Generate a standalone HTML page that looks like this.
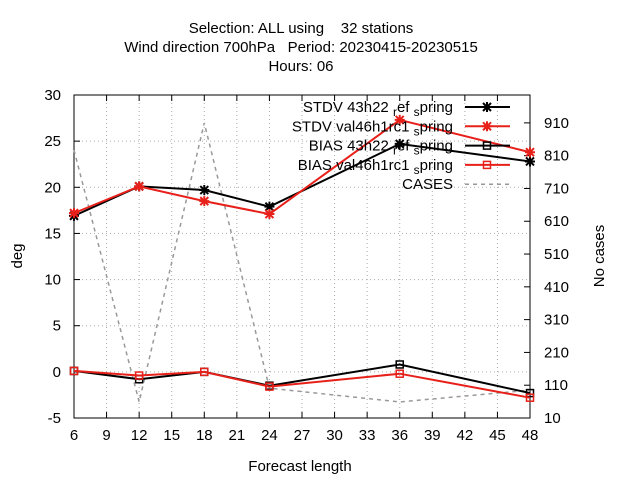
<!DOCTYPE html>
<html><head><meta charset="utf-8"><style>
body{margin:0;background:#fff}
svg text{font-family:"Liberation Sans",sans-serif;font-size:15px;fill:#000}
</style></head><body>
<svg id="c" width="640" height="480" xmlns="http://www.w3.org/2000/svg">
<rect width="640" height="480" fill="#fff"/>
<text x="301" y="33" text-anchor="middle" xml:space="preserve">Selection: ALL using    32 stations</text>
<text x="301" y="52" text-anchor="middle" xml:space="preserve">Wind direction 700hPa   Period: 20230415-20230515</text>
<text x="301" y="71" text-anchor="middle">Hours:  06</text>
<text x="300" y="471" text-anchor="middle">Forecast length</text>
<text transform="translate(22,256) rotate(-90)" text-anchor="middle">deg</text>
<text transform="translate(604,256) rotate(-90)" text-anchor="middle">No cases</text>
<g id="grid"></g><g id="axes"></g><g id="series"></g><g id="legend"></g>
</svg>
<script>
const xVals=[6,12,18,24,36,48];
const stdvRef=[16.9,20.1,19.7,17.9,24.7,22.8];
const stdvVal=[17.2,20.1,18.5,17.1,27.3,23.8];
const biasRef=[0.1,-0.8,0.0,-1.5,0.8,-2.3];
const biasVal=[0.1,-0.4,0.0,-1.6,-0.2,-2.8];
const cases=[827,59,910,101,59,95];
const xTicks=[6,9,12,15,18,21,24,27,30,33,36,39,42,45,48];
const yTicks=[-5,0,5,10,15,20,25,30];
const y2Ticks=[10,110,210,310,410,510,610,710,810,910];
const legendLabels=["STDV 43h22 _ref _spring","STDV val46h1rc1 _spring","BIAS 43h22 _ref _spring","BIAS val46h1rc1 _spring","CASES"];
const L=74,R=530,T=95,B=418;
const X=v=>L+(v-6)/(42)*(R-L);
const Y=v=>B-(v+5)/35*(B-T);
const Y2=v=>B-(v-10)/985*(B-T);
const NS="http://www.w3.org/2000/svg";
function mk(tag,attrs,parent){const e=document.createElementNS(NS,tag);for(const k in attrs)e.setAttribute(k,attrs[k]);(typeof parent==='string'?document.getElementById(parent):parent).appendChild(e);return e;}
xTicks.forEach(t=>{const x=X(t);
 const g=mk('line',{x1:x,x2:x,y1:T,y2:B,stroke:'#aaa','stroke-dasharray':'1,3'},'grid');
 
 
 mk('line',{x1:x,x2:x,y1:B,y2:B-6,stroke:'#000'},'axes');
 mk('line',{x1:x,x2:x,y1:T,y2:T+6,stroke:'#000'},'axes');
 const tx=mk('text',{x:x,y:B+22,'text-anchor':'middle'},'axes');tx.textContent=t;
 
 
});
yTicks.forEach(t=>{const y=Y(t);
 const g=mk('line',{x1:L,x2:R,y1:y,y2:y,stroke:'#aaa','stroke-dasharray':'1,3'},'grid');
 
 
 mk('line',{x1:L,x2:L+6,y1:y,y2:y,stroke:'#000'},'axes');
 const tx=mk('text',{x:L-13,y:y+5,'text-anchor':'end'},'axes');tx.textContent=t;
 
 
});
y2Ticks.forEach(t=>{const y=Y2(t);
 mk('line',{x1:R,x2:R-6,y1:y,y2:y,stroke:'#000'},'axes');
 const tx=mk('text',{x:R+14,y:y+5},'axes');tx.textContent=t;
 
 
});
const fr=mk('rect',{x:L,y:T,width:R-L,height:B-T,fill:'none',stroke:'#000'},'axes');


function star(x,y,c,p){mk('path',{d:`M${x-4} ${y-4}L${x+4} ${y+4}M${x-4} ${y+4}L${x+4} ${y-4}M${x-5} ${y}L${x+5} ${y}M${x} ${y-5}L${x} ${y+5}`,stroke:c,'stroke-width':2},p);}
function sq(x,y,c,p){mk('rect',{x:x-3.5,y:y-3.5,width:7,height:7,fill:'none',stroke:c,'stroke-width':1.5},p);}
const series=[
 {d:cases,f:Y2,c:'#999',m:null,dash:'4,4',n:'cases-line'},
 {d:stdvRef,f:Y,c:'#000',m:star,n:'stdv-ref-line'},
 {d:stdvVal,f:Y,c:'#e8201a',m:star,n:'stdv-val-line'},
 {d:biasRef,f:Y,c:'#000',m:sq,n:'bias-ref-line'},
 {d:biasVal,f:Y,c:'#e8201a',m:sq,n:'bias-val-line'}];
series.forEach(s=>{
 const pts=s.d.map((v,i)=>X(xVals[i])+','+s.f(v)).join(' ');
 const pl=mk('polyline',{points:pts,fill:'none',stroke:s.c,'stroke-width':s.m?2:1.5,'stroke-dasharray':s.dash||'none'},'series');
 
 
 if(s.m)s.d.forEach((v,i)=>s.m(X(xVals[i]),s.f(v),s.c,'series'));
});
const legOrder=[1,2,3,4,0];
legendLabels.forEach((lab,i)=>{const y=107+i*19.3;const s=series[legOrder[i]];
 const tx=mk('text',{x:453,y:y+5,'text-anchor':'end','font-size':'16'},'legend');
 tx.setAttribute('xml:space','preserve');
 
 
 const parts=lab.split('_');
 parts.forEach((p,j)=>{
   if(j===0){const t=mk('tspan',{},tx);t.textContent=p;return;}
   const sub=mk('tspan',{'font-size':'12','dy':'4'},tx);sub.textContent=p[0];
   const rest=mk('tspan',{'dy':'-4'},tx);rest.textContent=p.slice(1);
 });
 mk('line',{x1:465,x2:510,y1:y,y2:y,stroke:s.c,'stroke-width':s.m?2:1.5,'stroke-dasharray':s.dash||'none'},'legend');
 if(s.m)s.m(487,y,s.c,'legend');
});
</script>
</body></html>
